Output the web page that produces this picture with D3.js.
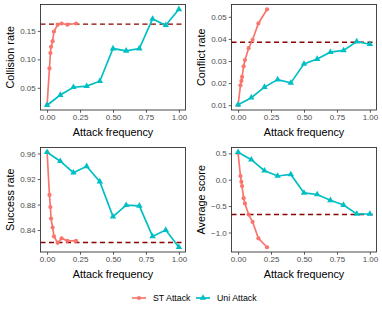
<!DOCTYPE html>
<html>
<head>
<meta charset="utf-8">
<script src="https://cdn.jsdelivr.net/npm/d3@7"></script>
<style>
  body { margin: 0; background: #fff; }
  text { font-family: "Liberation Sans", Arial, sans-serif; }
</style>
</head>
<body>
<div id="chart"></div>
<script>
// x values for both attack types
const stFreq = [0, 0.018, 0.025, 0.03, 0.042, 0.052, 0.08, 0.11, 0.154, 0.22];
const uniFreq = [0, 0.1, 0.2, 0.3, 0.4, 0.5, 0.6, 0.7, 0.8, 0.9, 1.0];

// series values
const stCollision = [0.02, 0.084, 0.111, 0.122, 0.132, 0.149, 0.161, 0.163, 0.161, 0.163];
const uniCollision = [0.0194, 0.0373, 0.051, 0.0529, 0.0616, 0.119, 0.115, 0.119, 0.171, 0.160, 0.188];
const stConflict = [0.01, 0.019, 0.021, 0.0228, 0.0276, 0.0304, 0.0358, 0.0396, 0.047, 0.0534];
const uniConflict = [0.0102, 0.0134, 0.0182, 0.0216, 0.0201, 0.0287, 0.0309, 0.034, 0.0348, 0.0388, 0.0376];
const stSuccess = [0.962, 0.895, 0.876, 0.858, 0.844, 0.830, 0.820, 0.827, 0.823, 0.823];
const uniSuccess = [0.962, 0.948, 0.930, 0.940, 0.916, 0.861, 0.879, 0.878, 0.830, 0.840, 0.813];
const stScore = [0.5, 0.07, -0.04, -0.12, -0.35, -0.45, -0.66, -0.80, -1.11, -1.28];
const uniScore = [0.52, 0.38, 0.17, 0.07, 0.10, -0.25, -0.28, -0.39, -0.48, -0.65, -0.65];

// dashed reference lines
const baselines = [0.162, 0.0385, 0.8205, -0.66];

// axis labels and ticks
const yTitles = ["Collision rate", "Conflict rate", "Success rate", "Average score"];
const xTicks = [0, 0.25, 0.5, 0.75, 1];
const yTicks = [
  [0.05, 0.10, 0.15],
  [0.01, 0.02, 0.03, 0.04, 0.05],
  [0.84, 0.88, 0.92, 0.96],
  [-1.0, -0.5, 0.0, 0.5]
];
const yFormats = [".2f", ".2f", ".2f", ".1f"];
const seriesNames = ["ST Attack", "Uni Attack"];

const colors = { st: "#F8766D", uni: "#00BFC4", base: "#8B0000" };

const width = 382, height = 312;
const fontFamily = '"Liberation Sans", Arial, sans-serif';

const svg = d3.select("#chart")
  .append("svg")
  .attr("width", width)
  .attr("height", height);

// panel boxes (col = left edge of the facet cell)
const panels = [
  { col: 0, x: 40.5, y: 4.5, w: 145, h: 105.5, st: stCollision, uni: uniCollision },
  { col: 191, x: 231.5, y: 4.5, w: 145, h: 105.5, st: stConflict, uni: uniConflict },
  { col: 0, x: 40.5, y: 147.5, w: 145, h: 104.5, st: stSuccess, uni: uniSuccess },
  { col: 191, x: 231.5, y: 147.5, w: 145, h: 104.5, st: stScore, uni: uniScore }
];

panels.forEach((p, i) => {
  const g = svg.append("g").attr("transform", `translate(${p.x},${p.y})`);

  const all = p.st.concat(p.uni, [baselines[i]]);
  const lo = d3.min(all), hi = d3.max(all);
  const pad = (hi - lo) * 0.05;

  const x = d3.scaleLinear().domain([-0.05, 1.05]).range([0, p.w]);
  const y = d3.scaleLinear().domain([lo - pad, hi + pad]).range([p.h, 0]);

  // x axis
  const xAxis = g.append("g")
    .attr("transform", `translate(0,${p.h})`)
    .call(d3.axisBottom(x).tickValues(xTicks).tickFormat(d3.format(".2f")).tickSize(2.75).tickPadding(2));
  xAxis.select(".domain").remove();
  xAxis.selectAll("line").attr("stroke", "#333").attr("stroke-width", 0.8);
  xAxis.selectAll("text").attr("fill", "#4D4D4D").attr("font-size", "8px")
    .style("font-family", fontFamily);

  // y axis
  const fmt = d3.format(yFormats[i]);
  const yAxis = g.append("g")
    .call(d3.axisLeft(y).tickValues(yTicks[i]).tickFormat(d => fmt(d).replace("-", "\u2212")).tickSize(2.75).tickPadding(2));
  yAxis.select(".domain").remove();
  yAxis.selectAll("line").attr("stroke", "#333").attr("stroke-width", 0.8);
  yAxis.selectAll("text").attr("fill", "#4D4D4D").attr("font-size", "8px")
    .style("font-family", fontFamily);

  // baseline
  g.append("line")
    .attr("x1", 0).attr("x2", p.w)
    .attr("y1", y(baselines[i])).attr("y2", y(baselines[i]))
    .attr("stroke", colors.base)
    .attr("stroke-width", 1.4)
    .attr("stroke-dasharray", "5,3.5");

  const line = d3.line().x(d => x(d[0])).y(d => y(d[1]));

  const stData = stFreq.map((f, k) => [f, p.st[k]]);
  const uniData = uniFreq.map((f, k) => [f, p.uni[k]]);

  g.append("path").datum(stData)
    .attr("d", line).attr("fill", "none")
    .attr("stroke", colors.st).attr("stroke-width", 1.7);
  g.selectAll(".st-pt").data(stData).enter()
    .append("circle").attr("class", "st-pt")
    .attr("cx", d => x(d[0])).attr("cy", d => y(d[1]))
    .attr("r", 2.1).attr("fill", colors.st);

  g.append("path").datum(uniData)
    .attr("d", line).attr("fill", "none")
    .attr("stroke", colors.uni).attr("stroke-width", 1.7);
  const tri = d3.symbol().type(d3.symbolTriangle).size(18);
  g.selectAll(".uni-pt").data(uniData).enter()
    .append("path").attr("class", "uni-pt")
    .attr("transform", d => `translate(${x(d[0])},${y(d[1])})`)
    .attr("d", tri).attr("fill", colors.uni);

  // panel border
  g.append("rect")
    .attr("width", p.w).attr("height", p.h)
    .attr("fill", "none").attr("stroke", "#333").attr("stroke-width", 0.9);

  // axis titles
  g.append("text")
    .attr("x", p.w / 2)
    .attr("y", p.h + 26)
    .attr("text-anchor", "middle")
    .attr("font-size", "10.8px")
    .attr("fill", "#000")
    .text("Attack frequency");

  g.append("text")
    .attr("transform", "rotate(-90)")
    .attr("x", -p.h / 2)
    .attr("y", p.col + 14 - p.x)
    .attr("text-anchor", "middle")
    .attr("font-size", "10.8px")
    .attr("fill", "#000")
    .text(yTitles[i]);
});

// legend
const legend = svg.append("g").attr("transform", "translate(0,298)");
const legendItems = [
  { name: seriesNames[0], color: colors.st, x: 132, shape: "circle" },
  { name: seriesNames[1], color: colors.uni, x: 196, shape: "triangle" }
];
legendItems.forEach(item => {
  legend.append("line")
    .attr("x1", item.x).attr("x2", item.x + 14)
    .attr("y1", 0).attr("y2", 0)
    .attr("stroke", item.color).attr("stroke-width", 1.7);
  if (item.shape === "circle") {
    legend.append("circle")
      .attr("cx", item.x + 7).attr("cy", 0).attr("r", 2.1)
      .attr("fill", item.color);
  } else {
    legend.append("path")
      .attr("transform", `translate(${item.x + 7},0)`)
      .attr("d", d3.symbol().type(d3.symbolTriangle).size(18))
      .attr("fill", item.color);
  }
  legend.append("text")
    .attr("x", item.x + 21)
    .attr("y", 3.2)
    .attr("font-size", "8.8px")
    .attr("fill", "#000")
    .text(item.name);
});
</script>
</body>
</html>
